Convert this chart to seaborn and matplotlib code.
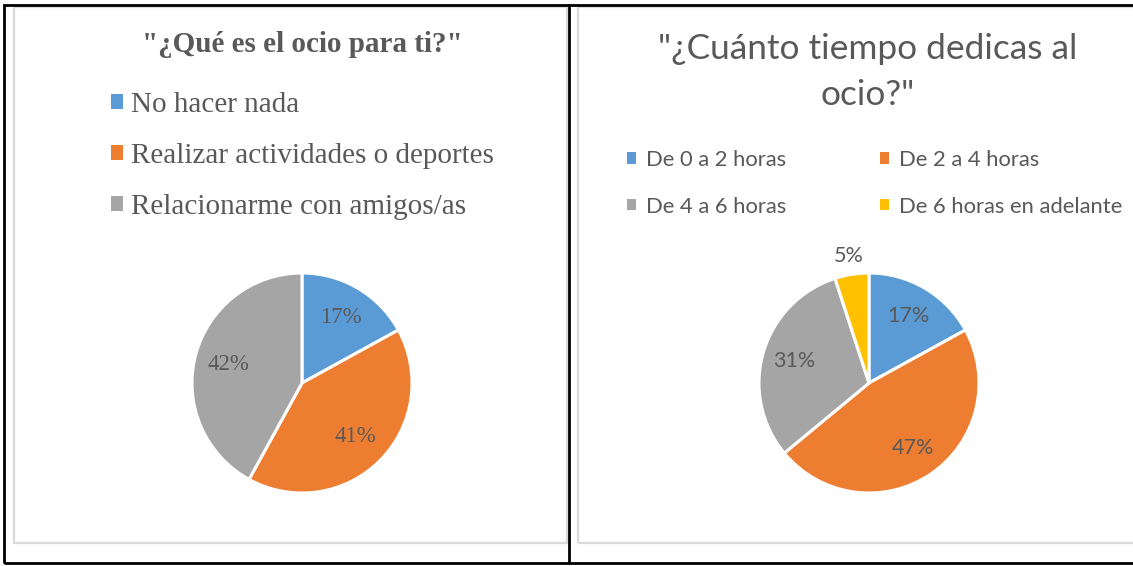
import matplotlib
matplotlib.use("Agg")
import matplotlib.pyplot as plt
from matplotlib.patches import Rectangle, Patch
from matplotlib.lines import Line2D
import numpy as np
import seaborn as sns

# Data (percentages)
ocio_labels = ["No hacer nada", "Realizar actividades o deportes", "Relacionarme con amigos/as"]
ocio_pct = [17, 41, 42]

tiempo_labels = ["De 0 a 2 horas", "De 2 a 4 horas", "De 4 a 6 horas", "De 6 horas en adelante"]
tiempo_pct = [17, 47, 31, 5]

# Office palette
colors = ["#5B9BD5", "#ED7D31", "#A5A5A5", "#FFC000"]
text_color = "#595959"

sns.set_theme(style="white")
plt.rcParams["font.family"] = ["Liberation Serif", "DejaVu Sans"]

W, H = 1133, 566
fig = plt.figure(figsize=(W / 100, H / 100), dpi=100)


def pie_axes(cx, cy, r, pad=1.3):
    # square axes around a pie centred at (cx, cy) px measured from top-left
    half = r * pad
    ax = fig.add_axes([(cx - half) / W, (H - cy - half) / H, 2 * half / W, 2 * half / H])
    return ax


def draw_pie(ax, values, cols, font, size, pctdist, pad=1.3):
    wedges, _, autotexts = ax.pie(
        values,
        colors=cols,
        startangle=90,
        counterclock=False,
        autopct=lambda p: f"{p:.0f}%",
        pctdistance=pctdist,
        wedgeprops=dict(edgecolor="white", linewidth=2.2),
        textprops=dict(color=text_color, fontsize=size, family=font),
    )
    ax.set_xlim(-pad, pad)
    ax.set_ylim(-pad, pad)
    ax.set_aspect("equal")
    ax.axis("off")
    return wedges, autotexts


# --- frame lines (table cells + chart boxes) ---------------------------
def px_box(x0, y0, x1, y1, **kw):
    fig.add_artist(Rectangle((x0 / W, 1 - y1 / H), (x1 - x0) / W, (y1 - y0) / H,
                             fill=False, transform=fig.transFigure, **kw))


px_box(14, 7, 567, 543, edgecolor="#D9D9D9", lw=1.6)
px_box(578, 7, 1150, 543, edgecolor="#D9D9D9", lw=1.6)
px_box(4, 5, 1150, 563, edgecolor="black", lw=2)
fig.add_artist(Line2D([569 / W, 569 / W], [1 - 5 / H, 1 - 563 / H], color="black", lw=2,
                      transform=fig.transFigure))

# --- left chart: "¿Qué es el ocio para ti?" ----------------------------
ax1 = pie_axes(302, 383, 110)
w1, t1 = draw_pie(ax1, ocio_pct, colors[:3], "Liberation Serif", 16.5, 0.69)

fig.text(302 / W, 1 - 45 / H, "\"¿Qué es el ocio para ti?\"", ha="center", va="center",
         fontsize=21, fontweight="bold", color=text_color, family="Liberation Serif")

handles1 = [Patch(facecolor=c, edgecolor="none") for c in colors[:3]]
leg1 = fig.legend(handles1, ocio_labels, loc="upper left", bbox_to_anchor=(111 / W, 1 - 92 / H),
                  frameon=False, borderpad=0, borderaxespad=0, handlelength=0.4,
                  handleheight=0.4, handletextpad=0.3, labelspacing=0.86,
                  prop=dict(family="Liberation Serif", size=21))
for t in leg1.get_texts():
    t.set_color(text_color)

# --- right chart: "¿Cuánto tiempo dedicas al ocio?" --------------------
ax2 = pie_axes(869, 383, 110)
w2, t2 = draw_pie(ax2, tiempo_pct, colors, "Lato", 15.5, 0.71)

# small slice label sits outside the pie, above its wedge
small = w2[3]
mid = np.deg2rad((small.theta1 + small.theta2) / 2)
t2[3].set_position((1.17 * np.cos(mid), 1.17 * np.sin(mid)))

fig.text(868 / W, 1 - 72 / H, "\"¿Cuánto tiempo dedicas al\nocio?\"", ha="center", va="center",
         fontsize=25.4, color=text_color, family="Lato", linespacing=1.55)

order = [0, 2, 1, 3]
handles2 = [Patch(facecolor=colors[i], edgecolor="none") for i in order]
leg2 = fig.legend(handles2, [tiempo_labels[i] for i in order], ncol=2, loc="upper left",
                  bbox_to_anchor=(627 / W, 1 - 150 / H), frameon=False, borderpad=0,
                  borderaxespad=0, handlelength=0.42, handleheight=0.42, handletextpad=0.45,
                  columnspacing=4.25, labelspacing=1.21,
                  prop=dict(family="Lato", size=15.8))
for t in leg2.get_texts():
    t.set_color(text_color)

fig.savefig("out.png", dpi=100, facecolor="white")
